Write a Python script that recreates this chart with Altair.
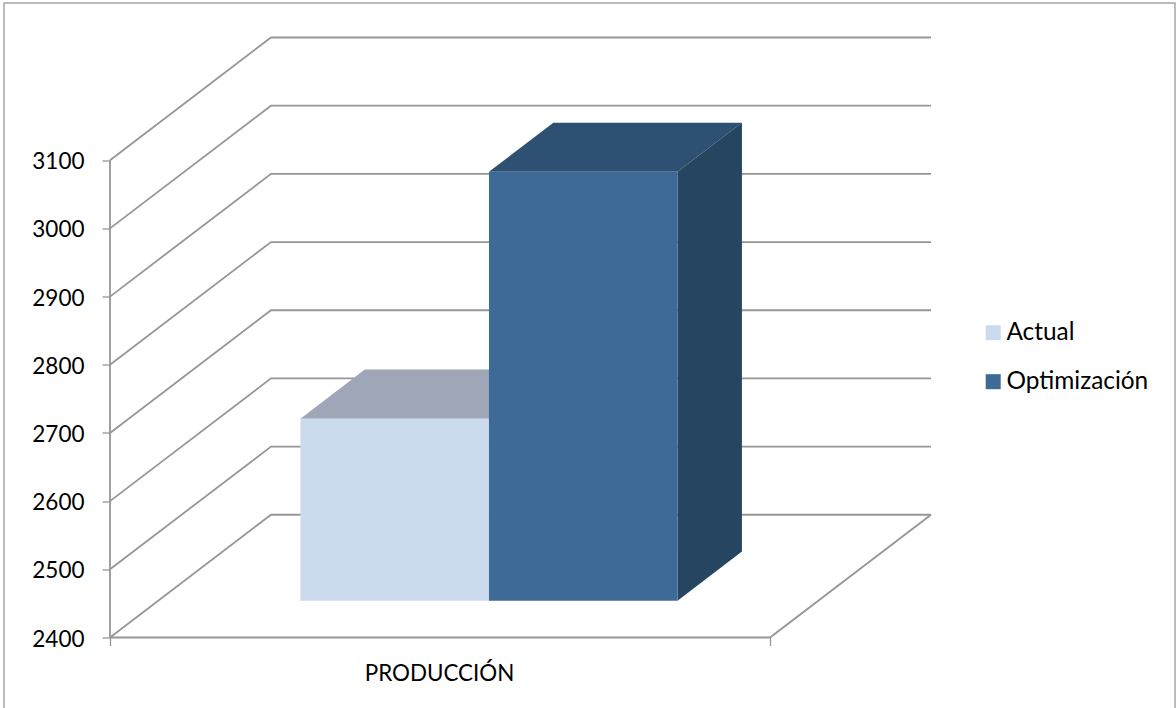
import altair as alt
import pandas as pd

# Chart content
CATEGORY = "PRODUCCIÓN"
SERIES = ["Actual", "Optimización"]
VALUES = [2667, 3029]
FRONT_COLORS = ["#ccdaee", "#3d6a96"]
TOP_COLORS = ["#9ea6b7", "#2e5173"]
SIDE_COLORS = ["#7f8a9c", "#264561"]
TICKS = [2400, 2500, 2600, 2700, 2800, 2900, 3000, 3100]

# Oblique projection: a step of full depth shifts a point right and upward
BASE = TICKS[0]
DEPTH_X = 0.2439
DEPTH_Y = 180
BAR_CENTER = 0.501
BAR_WIDTH = 0.2857
BAR_DEPTH = (0.3, 0.7)
X_MAX = 1 + DEPTH_X
Y_MAX = 3280

FONT = "Lato"
LINE = "#969696"
TEXT = "#000000"

x_scale = alt.Scale(domain=[0, X_MAX], nice=False, zero=False)
y_scale = alt.Scale(domain=[BASE, Y_MAX], nice=False, zero=False)


def project(cat, value, depth):
    return {"x": cat + depth * DEPTH_X, "y": value + depth * DEPTH_Y}


# Wall and floor lines
rows = []
for tick in TICKS:
    for order, (c, d) in enumerate([(0, 0), (0, 1), (1, 1)]):
        rows.append({**project(c, tick, d), "path": f"g{tick}", "order": order})
for order, (c, d) in enumerate([(1, 1), (1, 0), (0, 0)]):
    rows.append({**project(c, BASE, d), "path": "floor", "order": order})
for order, v in enumerate([BASE, TICKS[-1]]):
    rows.append({**project(0, v, 0), "path": "wall", "order": order})

X = alt.X("x:Q", scale=x_scale)
Y = alt.Y("y:Q", scale=y_scale)

grid = (
    alt.Chart(pd.DataFrame(rows))
    .mark_line(color=LINE, strokeWidth=1.8, clip=False)
    .encode(
        x=alt.X(
            "x:Q",
            scale=x_scale,
            title=None,
            axis=alt.Axis(
                values=[0, 0.5, 1],
                grid=False,
                domain=False,
                tickColor=LINE,
                tickSize=8,
                tickWidth=1.3,
                tickOpacity={
                    "condition": {"test": "datum.value == 0.5", "value": 0},
                    "value": 1,
                },
                labelExpr=f"datum.value == 0.5 ? '{CATEGORY}' : ''",
                labelFont=FONT,
                labelFontSize=22.4,
                labelColor=TEXT,
                labelPadding=17,
                labelOffset=-1,
            ),
        ),
        y=alt.Y(
            "y:Q",
            scale=y_scale,
            title=None,
            axis=alt.Axis(
                values=TICKS,
                grid=False,
                domain=False,
                tickColor=LINE,
                tickSize=8,
                tickWidth=1.3,
                labelFont=FONT,
                labelFontSize=22.5,
                labelColor=TEXT,
                labelPadding=18,
                labelOffset=1.5,
                format="d",
            ),
        ),
        detail="path:N",
        order="order:Q",
    )
)

# Bar faces: top and side parallelograms, then the front rectangles
d0, d1 = BAR_DEPTH
faces = []
front_rows = []
for i, (name, value) in enumerate(zip(SERIES, VALUES)):
    left = BAR_CENTER - BAR_WIDTH + i * BAR_WIDTH
    right = left + BAR_WIDTH

    top_rows = [
        {
            "y": project(left, value, d)["y"],
            "x": project(left, value, d)["x"],
            "x2": project(right, value, d)["x"],
        }
        for d in (d0, d1)
    ]
    faces.append(
        alt.Chart(pd.DataFrame(top_rows))
        .mark_area(orient="horizontal", color=TOP_COLORS[i], clip=False)
        .encode(x=X, x2="x2:Q", y=Y)
    )

    side_rows = [
        {
            "x": project(right, value, d)["x"],
            "y": project(right, value, d)["y"],
            "y2": project(right, BASE, d)["y"],
        }
        for d in (d0, d1)
    ]
    faces.append(
        alt.Chart(pd.DataFrame(side_rows))
        .mark_area(color=SIDE_COLORS[i], clip=False)
        .encode(x=X, y=Y, y2="y2:Q")
    )

    a = project(left, BASE, d0)
    b = project(right, value, d0)
    front_rows.append(
        {"serie": name, "x": a["x"], "x2": b["x"], "y": a["y"], "y2": b["y"]}
    )

front = (
    alt.Chart(pd.DataFrame(front_rows))
    .mark_rect(clip=False)
    .encode(
        x=X,
        x2="x2:Q",
        y=Y,
        y2="y2:Q",
        color=alt.Color(
            "serie:N",
            scale=alt.Scale(domain=SERIES, range=FRONT_COLORS),
            legend=alt.Legend(
                title=None,
                orient="none",
                legendX=871,
                legendY=283,
                padding=0,
                symbolType="square",
                symbolSize=225,
                symbolStrokeWidth=0,
                labelFont=FONT,
                labelFontSize=24.4,
                labelColor=TEXT,
                labelOffset=1,
                rowPadding=24,
            ),
        ),
    )
)

# Outer frame of the chart; its lower edge runs past the bottom of the page
frame = (
    alt.Chart(pd.DataFrame({"a": [0]}))
    .mark_rect(fill=None, stroke="#a6a6a6", strokeWidth=1.5, clip=False)
    .encode(
        x=alt.value(-106),
        x2=alt.value(1065),
        y=alt.value(-34.5),
        y2=alt.value(700),
    )
)

chart = (
    alt.layer(frame, grid, *faces, front)
    .properties(
        width=821,
        height=600,
        autosize=alt.AutoSizeParams(type="none"),
        padding={"left": 110, "top": 37.5, "right": 245, "bottom": 70.5},
        background="#ffffff",
    )
    .configure_view(stroke=None)
)

chart.save("out.html", embed_options={"renderer": "svg", "actions": False})
